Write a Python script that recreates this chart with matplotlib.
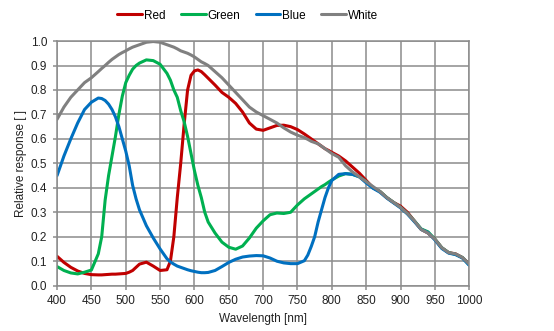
import matplotlib
matplotlib.use("Agg")
import matplotlib.pyplot as plt
import numpy as np

plt.rcParams["font.family"] = ["Liberation Sans", "DejaVu Sans"]

wavelength = [400, 410, 420, 430, 440, 450, 460,
              465, 470, 475, 480, 485, 490, 495, 500, 505, 510, 515, 520,
              530, 540, 550, 560,
              565, 570, 575, 580, 585, 590, 595, 600, 605, 610, 615, 620,
              630, 640, 650, 660, 670, 680, 690, 700, 710, 720, 730, 740, 750, 760,
              765, 770, 775, 780, 785, 790, 795, 800,
              810, 820, 830, 840, 850, 860, 870, 880, 890, 900,
              910, 920, 930, 940, 950, 960, 970, 980, 990, 1000]

red = [0.12, 0.095, 0.075, 0.06, 0.05, 0.045, 0.044,
       0.044, 0.045, 0.046, 0.047, 0.047, 0.048, 0.049, 0.05, 0.055, 0.062, 0.075, 0.088,
       0.096, 0.08, 0.062, 0.065,
       0.1, 0.2, 0.36, 0.5, 0.66, 0.8, 0.86, 0.878, 0.882, 0.875, 0.862, 0.848,
       0.82, 0.79, 0.77, 0.745, 0.71, 0.665, 0.64, 0.635, 0.645, 0.655, 0.656, 0.65, 0.638, 0.62,
       0.61, 0.6, 0.59, 0.58, 0.57, 0.56, 0.553, 0.545,
       0.53, 0.51, 0.485, 0.46, 0.43, 0.4, 0.385, 0.36, 0.34, 0.325,
       0.3, 0.265, 0.23, 0.215, 0.19, 0.155, 0.135, 0.13, 0.115, 0.088]

green = [0.078, 0.062, 0.052, 0.048, 0.055, 0.064, 0.13,
         0.2, 0.35, 0.45, 0.53, 0.61, 0.7, 0.775, 0.83, 0.86, 0.885, 0.9, 0.91,
         0.923, 0.92, 0.905, 0.868,
         0.84, 0.8, 0.77, 0.715, 0.67, 0.61, 0.54, 0.47, 0.41, 0.36, 0.3, 0.26,
         0.215, 0.178, 0.157, 0.149, 0.162, 0.195, 0.235, 0.265, 0.29, 0.297, 0.295, 0.3, 0.33, 0.355,
         0.365, 0.375, 0.385, 0.395, 0.405, 0.413, 0.423, 0.432,
         0.448, 0.458, 0.455, 0.445, 0.425, 0.4, 0.385, 0.36, 0.34, 0.32,
         0.295, 0.265, 0.232, 0.22, 0.19, 0.155, 0.135, 0.128, 0.115, 0.085]

blue = [0.45, 0.53, 0.6, 0.665, 0.72, 0.75, 0.767,
        0.765, 0.757, 0.742, 0.72, 0.69, 0.65, 0.6, 0.55, 0.49, 0.41, 0.355, 0.31,
        0.245, 0.195, 0.15, 0.11,
        0.097, 0.088, 0.08, 0.075, 0.07, 0.065, 0.061, 0.058, 0.055, 0.053, 0.053, 0.054,
        0.062, 0.078, 0.095, 0.108, 0.117, 0.121, 0.123, 0.122, 0.113, 0.1, 0.093, 0.09, 0.09, 0.102,
        0.125, 0.16, 0.2, 0.26, 0.31, 0.36, 0.4, 0.43,
        0.455, 0.458, 0.455, 0.445, 0.42, 0.398, 0.382, 0.358, 0.338, 0.318,
        0.293, 0.262, 0.23, 0.217, 0.187, 0.152, 0.133, 0.127, 0.113, 0.083]

white = [0.68, 0.73, 0.77, 0.8, 0.83, 0.85, 0.875,
         0.888, 0.9, 0.913, 0.925, 0.935, 0.945, 0.953, 0.96, 0.968, 0.975, 0.98, 0.985,
         0.995, 0.998, 0.995, 0.985,
         0.98, 0.975, 0.968, 0.96, 0.955, 0.95, 0.943, 0.935, 0.925, 0.915, 0.908, 0.9,
         0.875, 0.85, 0.82, 0.79, 0.76, 0.73, 0.71, 0.695, 0.68, 0.665, 0.645, 0.628, 0.615, 0.605,
         0.598, 0.59, 0.585, 0.58, 0.57, 0.56, 0.55, 0.54,
         0.525, 0.49, 0.465, 0.445, 0.425, 0.405, 0.385, 0.36, 0.34, 0.32,
         0.295, 0.265, 0.23, 0.215, 0.19, 0.155, 0.135, 0.13, 0.115, 0.088]

series = [("Red", red, "#C00000"), ("Green", green, "#00B050"),
          ("Blue", blue, "#0070C0"), ("White", white, "#808080")]

fig = plt.figure(figsize=(5.54, 3.31), dpi=100)
ax = fig.add_axes([0.103, 0.137, 0.744, 0.739])

for name, values, color in series:
    ax.plot(wavelength, values, color=color, lw=2.2, label=name,
            solid_capstyle="round", solid_joinstyle="round")

grid_color = "#8C8C8C"
text_color = "#222222"
ax.set_xlim(400, 1000)
ax.set_ylim(0, 1.0)
ax.set_xticks(np.arange(400, 1001, 50))
yticks = np.round(np.arange(0, 1.01, 0.1), 1)
ax.set_yticks(yticks)
ax.set_yticklabels([f"{v:.1f}" for v in yticks])
ax.grid(True, color=grid_color, lw=1.1)
ax.set_axisbelow(True)
for spine in ax.spines.values():
    spine.set_color(grid_color)
    spine.set_linewidth(1.1)
ax.tick_params(axis="both", colors=grid_color, labelcolor=text_color, labelsize=8.5,
               length=3, width=1.1)
ax.tick_params(axis="x", pad=4)
ax.tick_params(axis="y", pad=4)

ax.set_xlabel("Wavelength [nm]", fontsize=8.5, color=text_color, labelpad=4)
ax.set_ylabel("Relative response [ ]", fontsize=8.5, color=text_color, labelpad=3)

fig.legend(loc="center", bbox_to_anchor=(0.447, 0.953), ncol=4, frameon=False,
           fontsize=8.5, handlelength=2.1, handletextpad=0.15, columnspacing=1.3)

fig.savefig("out.png", dpi=100)
